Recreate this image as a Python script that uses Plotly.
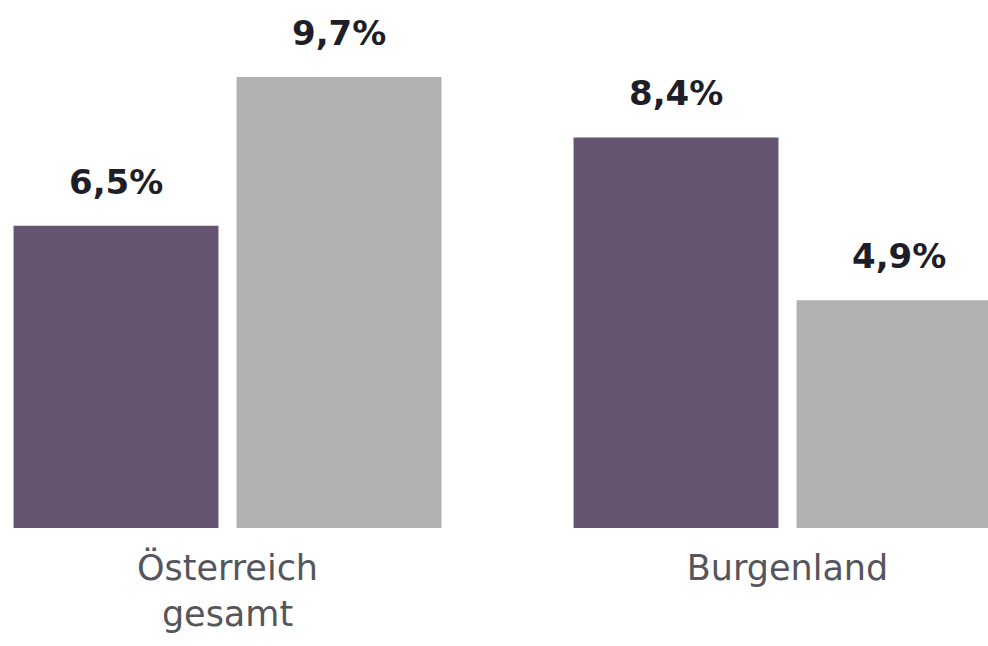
import plotly.graph_objects as go

categories = ["Österreich<br>gesamt", "Burgenland"]
series_a = [6.5, 8.4]   # purple
series_b = [9.7, 4.9]   # gray
labels_a = ["6,5%", "8,4%"]
labels_b = ["9,7%", "4,9%"]

PURPLE = "#665570"
GRAY = "#b0b1b3"
NUM_FONT = dict(family="DejaVu Sans", size=34, color="#1e1e28", weight="bold")

fig = go.Figure()
fig.add_bar(x=categories, y=series_a, marker=dict(color=PURPLE, line=dict(width=0)), hoverinfo="skip")
fig.add_bar(x=categories, y=series_b, marker=dict(color=GRAY, line=dict(width=0)), hoverinfo="skip")

ann = []
for cat, v, t in zip(categories, series_a, labels_a):
    ann.append(dict(x=cat, y=v, text=t, xshift=-111.5, yshift=22, yanchor="bottom", showarrow=False,
                    font=NUM_FONT))
for cat, v, t in zip(categories, series_b, labels_b):
    ann.append(dict(x=cat, y=v, text=t, xshift=111.5, yshift=22, yanchor="bottom", showarrow=False,
                    font=NUM_FONT))

fig.update_layout(
    width=988, height=646,
    margin=dict(l=0, r=0, t=0, b=118),
    paper_bgcolor="white", plot_bgcolor="white",
    barmode="group", bargap=0.2036, bargroupgap=0.081,
    showlegend=False,
    annotations=ann,
    xaxis=dict(type="category", range=[-0.40625, 1.358], showgrid=False, zeroline=False, showline=False,
               ticks="", tickfont=dict(family="DejaVu Sans", size=35, color="#55555c"), ticklabelstandoff=16),
    yaxis=dict(range=[0, 528 / 46.5], visible=False),
)

fig.write_html("out.html", config={"displayModeBar": False},
               post_script="document.body.style.margin='0';document.body.style.overflow='hidden';")
